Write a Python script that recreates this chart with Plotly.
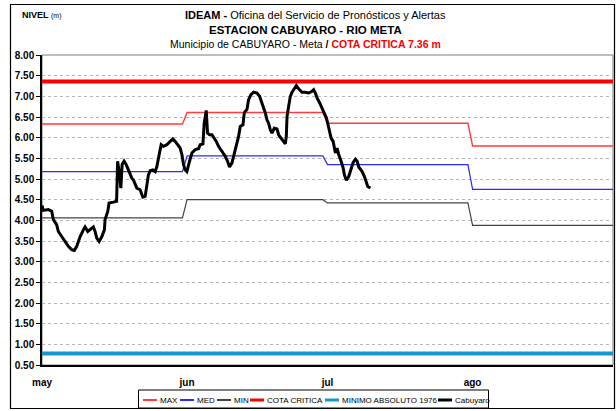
import pandas as pd
import plotly.graph_objects as go

# --- Series data -----------------------------------------------------------
# Observed stage at Cabuyaro: days elapsed since 1 May, level in metres
dias = [0, 0.25, 1.35, 2.07, 2.42, 3.14, 3.49, 4.21, 4.92, 5.63,
        6.35, 6.91, 7.42, 8.13, 8.84, 9.2, 9.78, 10.27, 10.98, 11.34,
        11.7, 12.2, 12.77, 13.33, 13.48, 14.06, 14.33, 15.25, 15.94, 16.15,
        16.54, 16.84, 17.12, 17.54, 17.97, 18.46, 19.19, 19.53, 20.26, 20.97,
        21.54, 22.04, 22.4, 22.74, 23.11, 23.68, 24.18, 24.54, 25.1, 25.46,
        25.95, 26.68, 27.39, 27.96, 28.46, 28.95, 29.52, 29.89, 30.23, 30.59,
        30.96, 31.52, 32.03, 32.73, 33.44, 33.8, 34.38, 34.66, 35.09, 35.37,
        35.79, 36.31, 36.8, 37.23, 37.72, 38.45, 39.15, 39.65, 40.07, 40.59,
        40.93, 41.51, 42.0, 42.36, 42.94, 43.22, 43.8, 44.14, 44.65, 45.21,
        45.94, 46.49, 46.79, 47.22, 47.71, 48.07, 48.42, 48.78, 49.14, 49.64,
        50.21, 50.56, 51.07, 51.5, 51.99, 52.2, 52.35, 52.7, 53.06, 53.42,
        53.92, 54.34, 54.84, 55.56, 56.27, 56.97, 57.7, 58.04, 58.41, 58.77,
        59.33, 59.84, 60.33, 60.76, 61.04, 61.47, 61.77, 62.2, 62.47, 62.69,
        63.05, 63.39, 63.91, 64.34, 64.61, 65.04, 65.53, 66.05, 66.48, 66.97,
        67.33, 67.67, 68.4, 68.89, 69.32, 69.6, 70.17]
nivel = [4.36, 4.24, 4.26, 4.22, 4.02, 3.89, 3.73, 3.61, 3.49, 3.37,
         3.29, 3.27, 3.37, 3.60, 3.77, 3.84, 3.73, 3.77, 3.84, 3.73,
         3.57, 3.49, 3.60, 3.77, 4.02, 4.22, 4.42, 4.44, 4.46, 5.43,
         5.14, 4.78, 5.35, 5.43, 5.35, 5.22, 5.02, 4.98, 4.78, 4.74,
         4.56, 4.58, 4.82, 5.10, 5.20, 5.22, 5.18, 5.30, 5.63, 5.83,
         5.79, 5.83, 5.91, 5.97, 5.91, 5.83, 5.75, 5.59, 5.35, 5.22,
         5.18, 5.43, 5.63, 5.71, 5.73, 5.83, 5.85, 6.35, 6.66, 6.11,
         6.07, 6.07, 5.99, 5.91, 5.79, 5.67, 5.55, 5.43, 5.29, 5.39,
         5.53, 5.79, 6.03, 6.27, 6.31, 6.60, 6.69, 6.92, 7.04, 7.10,
         7.08, 7.00, 6.88, 6.76, 6.60, 6.43, 6.35, 6.19, 6.11, 6.23,
         6.21, 6.07, 5.99, 5.91, 5.85, 6.03, 6.51, 6.76, 7.00, 7.10,
         7.20, 7.26, 7.18, 7.10, 7.10, 7.08, 7.12, 7.16, 7.08, 6.96,
         6.84, 6.72, 6.60, 6.48, 6.35, 6.15, 5.99, 5.91, 5.71, 5.63,
         5.75, 5.59, 5.43, 5.27, 5.10, 4.97, 5.06, 5.22, 5.40, 5.48,
         5.43, 5.29, 5.18, 5.06, 4.94, 4.82, 4.78]

# Monthly historical statistics (May, Jun, Jul, Aug)
meses = ["2021-05-01", "2021-06-01", "2021-07-01", "2021-08-01"]
fin_meses = ["2021-05-31", "2021-06-30", "2021-07-31", "2021-08-31"]
nivel_max = [6.33, 6.61, 6.35, 5.80]
nivel_med = [5.18, 5.56, 5.35, 4.75]
nivel_min = [4.06, 4.50, 4.42, 3.88]

cota_critica = 7.36
minimo_absoluto_1976 = 0.78

tick_meses = ["2021-05-01", "2021-06-01", "2021-07-01", "2021-08-01"]
tick_textos = ["may", "jun", "jul", "ago"]
rango_x = ["2021-05-01", "2021-08-31"]

# --- Helpers ---------------------------------------------------------------
W, H = 616, 411
L, R, T, B = 42, 3, 55, 46
PW, PH = W - L - R, H - T - B


def xp(px):
    return (px - L) / PW


def yp(py):
    return (H - B - py) / PH


def escalones(valores):
    xs, ys = [], []
    for ini, fin, v in zip(meses, fin_meses, valores):
        xs += [ini, fin]
        ys += [v, v]
    return xs, ys


tiempos = pd.Timestamp("2021-05-01") + pd.to_timedelta(dias, unit="D")

SANS = "Liberation Sans, Arial, sans-serif"

series = [
    ("MAX", "#ff3b3b", 1.4),
    ("MED", "#2a2aff", 1.2),
    ("MIN", "#444444", 1.2),
    ("COTA CRITICA", "#ff0000", 4),
    ("MINIMO ABSOLUTO 1976", "#1796d0", 4),
    ("Cabuyaro", "#000000", 3),
]
estilo = {n: (c, w) for n, c, w in series}

fig = go.Figure()

for nombre, valores in (("MAX", nivel_max), ("MED", nivel_med), ("MIN", nivel_min)):
    xs, ys = escalones(valores)
    c, w = estilo[nombre]
    fig.add_trace(go.Scatter(x=xs, y=ys, mode="lines", name=nombre,
                             line=dict(color=c, width=w), showlegend=False))

for nombre, valor in (("COTA CRITICA", cota_critica),
                      ("MINIMO ABSOLUTO 1976", minimo_absoluto_1976)):
    c, w = estilo[nombre]
    fig.add_trace(go.Scatter(x=rango_x, y=[valor, valor], mode="lines", name=nombre,
                             line=dict(color=c, width=w), showlegend=False))

c, w = estilo["Cabuyaro"]
fig.add_trace(go.Scatter(x=tiempos, y=nivel, mode="lines", name="Cabuyaro",
                         line=dict(color=c, width=w), showlegend=False))

shapes = [
    # plot-area border
    dict(type="rect", xref="paper", yref="paper", x0=0, x1=1, y0=0, y1=1,
         line=dict(color="#7f7f7f", width=1), layer="below"),
    # outer chart frame
    dict(type="rect", xref="paper", yref="paper", x0=xp(10.5), x1=xp(614.5),
         y0=yp(408.5), y1=yp(4.5), line=dict(color="#000000", width=1.2)),
    # legend box
    dict(type="rect", xref="paper", yref="paper", x0=xp(138.5), x1=xp(488.5),
         y0=yp(408), y1=yp(390), line=dict(color="#000000", width=1),
         fillcolor="white"),
]

annotations = [
    dict(x=xp(20), y=yp(15), xref="paper", yref="paper", xanchor="left",
         yanchor="middle", showarrow=False,
         text="<b>NIVEL</b> <span style='font-size:7px'>(m)</span>",
         font=dict(family=SANS, size=9, color="black")),
    dict(x=xp(315), y=yp(15), xref="paper", yref="paper", xanchor="center",
         yanchor="middle", showarrow=False,
         text="<b>IDEAM - </b>Oficina del Servicio de Pronósticos y Alertas",
         font=dict(family=SANS, size=11, color="black")),
    dict(x=xp(305), y=yp(30), xref="paper", yref="paper", xanchor="center",
         yanchor="middle", showarrow=False,
         text="<b>ESTACION CABUYARO - RIO META</b>",
         font=dict(family=SANS, size=11.5, color="black")),
    dict(x=xp(305), y=yp(44), xref="paper", yref="paper", xanchor="center",
         yanchor="middle", showarrow=False,
         text="Municipio de CABUYARO - Meta <b>/</b> "
              "<b><span style='color:#ff0000'>COTA CRITICA 7.36 m</span></b>",
         font=dict(family=SANS, size=10.5, color="black")),
]

# hand-built legend strip
leyenda_x = [143, 180, 217, 250, 325, 438]
for (nombre, c, w), x0 in zip(series, leyenda_x):
    shapes.append(dict(type="line", xref="paper", yref="paper",
                       x0=xp(x0), x1=xp(x0 + 14), y0=yp(400), y1=yp(400),
                       line=dict(color=c, width=2 if w < 2 else 3)))
    annotations.append(dict(x=xp(x0 + 15), y=yp(400.5), xref="paper", yref="paper",
                            xanchor="left", yanchor="middle", showarrow=False,
                            text=nombre, font=dict(family=SANS, size=8, color="black")))

fig.update_layout(
    width=W, height=H,
    margin=dict(l=L, r=R, t=T, b=B, pad=0),
    paper_bgcolor="white", plot_bgcolor="white",
    shapes=shapes, annotations=annotations,
    showlegend=False,
)

fig.update_xaxes(
    type="date", range=rango_x,
    tickmode="array", tickvals=tick_meses, ticktext=tick_textos,
    tickfont=dict(family=SANS, size=10, color="black", weight="bold"),
    ticks="", ticklabelstandoff=7,
    showgrid=False, showline=True, linecolor="black", linewidth=1.5,
    zeroline=False,
)
fig.update_yaxes(
    range=[0.5, 8.0], dtick=0.5, tick0=0.5, tickformat=".2f",
    tickfont=dict(family=SANS, size=10, color="black", weight="bold"),
    ticks="outside", ticklen=4, tickcolor="black", tickwidth=1,
    showgrid=True, gridcolor="#b5b5b5", griddash="dot", gridwidth=1,
    showline=True, linecolor="black", linewidth=1.5, zeroline=False,
)

fig.write_html("out.html")
